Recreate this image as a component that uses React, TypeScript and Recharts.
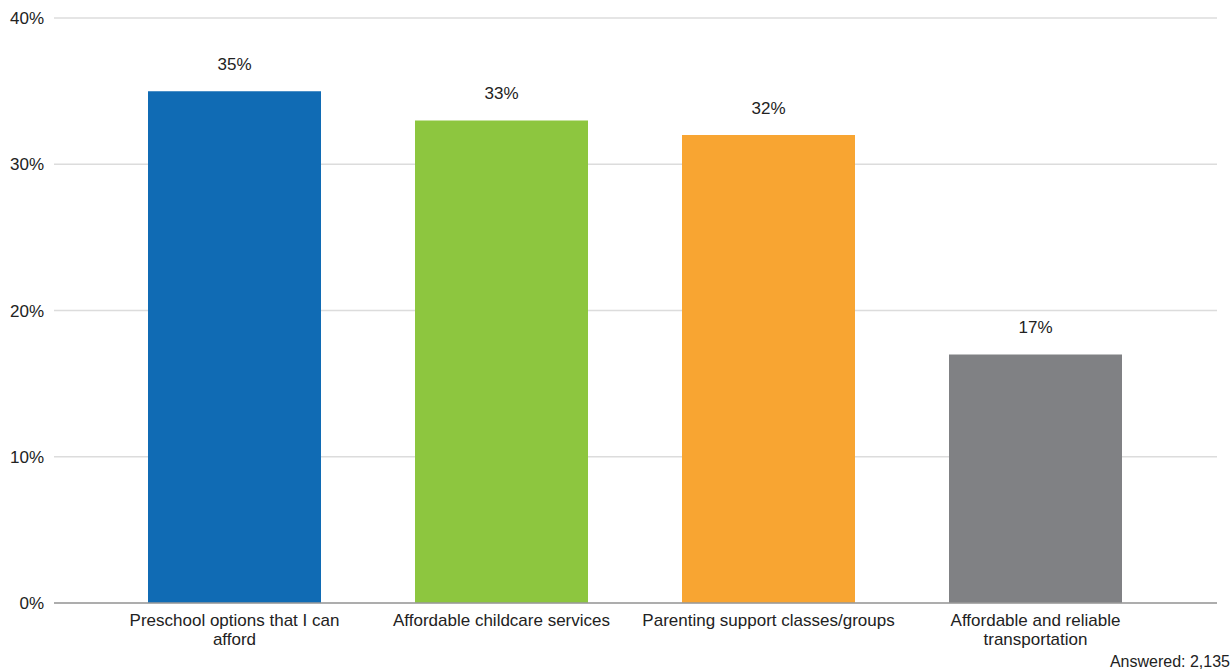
import React from "react";
import { BarChart, Bar, XAxis, YAxis, CartesianGrid, LabelList, Cell } from "recharts";

const categories = [
  "Preschool options that I can afford",
  "Affordable childcare services",
  "Parenting support classes/groups",
  "Affordable and reliable transportation",
];
const tickLines = [
  ["Preschool options that I can", "afford"],
  ["Affordable childcare services"],
  ["Parenting support classes/groups"],
  ["Affordable and reliable", "transportation"],
];
const values = [35, 33, 32, 17];
const barColors = ["#106BB4", "#8DC63F", "#F8A532", "#808184"];
const yTicks = [0, 10, 20, 30, 40];
const footnote = "Answered: 2,135";

const data = categories.map((c, i) => ({ name: c, value: values[i], idx: i }));

const FONT = "'Liberation Sans', Arial, sans-serif";

const XTick = (props: any) => {
  const { x, y, payload } = props;
  const lines = tickLines[payload.index] || [payload.value];
  return (
    <text x={x} y={y} textAnchor="middle" fill="#222" fontSize={17} fontFamily={FONT}>
      {lines.map((l: string, i: number) => (
        <tspan key={i} x={x} dy={i === 0 ? 15 : 19}>
          {l}
        </tspan>
      ))}
    </text>
  );
};

export default function App() {
  if (typeof document !== "undefined") {
    document.body.style.margin = "0";
  }
  return (
    <div style={{ position: "relative", width: 1231, height: 671, overflow: "hidden" }}>
      <BarChart
        width={1231}
        height={671}
        data={data}
        margin={{ top: 18, right: 14, bottom: 0, left: 0 }}
      >
        <CartesianGrid vertical={false} stroke="#dcdcdc" strokeWidth={1.5} />
        <XAxis
          dataKey="name"
          tickLine={false}
          axisLine={{ stroke: "#9a9a9a", strokeWidth: 1.5 }}
          padding={{ left: 47, right: 48 }}
          height={68}
          interval={0}
          tick={<XTick />}
        />
        <YAxis
          domain={[0, 40]}
          ticks={yTicks}
          tickFormatter={(v: number) => `${v}%`}
          tickLine={false}
          axisLine={false}
          width={54}
          tickMargin={4}
          tick={{ fill: "#222", fontSize: 17, fontFamily: FONT }}
        />
        <Bar dataKey="value" barSize={173} isAnimationActive={false}>
          {data.map((d, i) => (
            <Cell key={i} fill={barColors[i]} />
          ))}
          <LabelList
            dataKey="value"
            position="top"
            offset={21}
            formatter={(v: number) => `${v}%`}
            fill="#222"
            fontSize={17}
            fontFamily={FONT}
          />
        </Bar>
      </BarChart>
      <div
        style={{
          position: "absolute",
          right: 1,
          top: 654,
          fontFamily: FONT,
          fontSize: 16,
          color: "#222",
          lineHeight: "16px",
          whiteSpace: "nowrap",
        }}
      >
        {footnote}
      </div>
    </div>
  );
}
